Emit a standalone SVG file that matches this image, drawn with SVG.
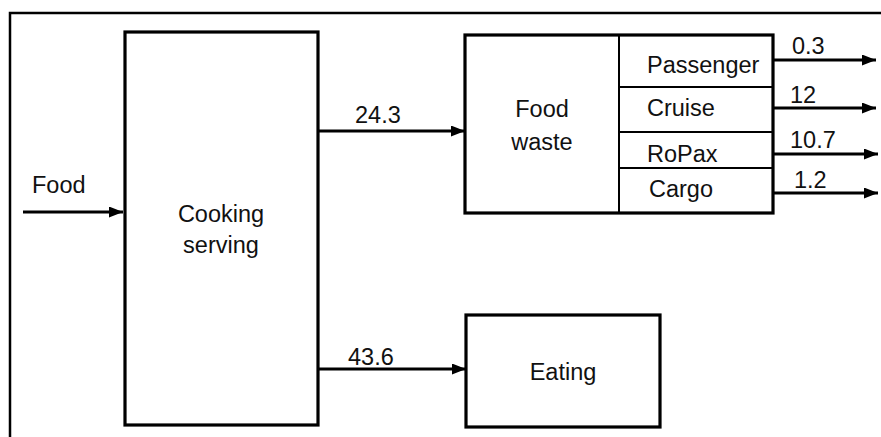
<svg xmlns="http://www.w3.org/2000/svg" width="881" height="437" viewBox="0 0 881 437">
<defs>
<style>
text{font-family:"Liberation Sans",Arial,sans-serif;font-size:23.5px;fill:#111}
.box{fill:#fff;stroke:#000;stroke-width:3.2}
.div{stroke:#000;stroke-width:2;fill:none}
.con{stroke:#000;stroke-width:3.2;fill:none}
.mid{text-anchor:middle}
</style>
<marker id="ah" viewBox="0 0 14 11" refX="14" refY="5.5" markerWidth="14" markerHeight="11" markerUnits="userSpaceOnUse" orient="auto">
<path d="M0,0 L14,5.5 L0,11 z" fill="#000"/>
</marker>
</defs>
<rect width="881" height="437" fill="#fff"/>
<path d="M10,437 V13 H881" fill="none" stroke="#000" stroke-width="2.5"/>
<g id="cooking">
<rect class="box" x="125" y="32" width="193" height="393"/>
<text class="mid" x="221" y="222">Cooking</text>
<text class="mid" x="221" y="253">serving</text>
</g>
<g id="foodwaste">
<rect class="box" x="465" y="35" width="308" height="178"/>
<path class="div" d="M619,35 V213 M619,87 H773 M619,132 H773 M619,168 H773"/>
<text class="mid" x="542" y="117">Food</text>
<text class="mid" x="542" y="150">waste</text>
<text x="647" y="73">Passenger</text>
<text x="647" y="116">Cruise</text>
<text x="647" y="162">RoPax</text>
<text x="649" y="197">Cargo</text>
</g>
<g id="eating">
<rect class="box" x="466" y="315" width="194" height="112"/>
<text class="mid" x="563" y="380">Eating</text>
</g>
<g id="connectors">
<line class="con" x1="23" y1="212" x2="123" y2="212" marker-end="url(#ah)"/>
<line class="con" x1="318" y1="131" x2="465" y2="131" marker-end="url(#ah)"/>
<line class="con" x1="318" y1="369" x2="466" y2="369" marker-end="url(#ah)"/>
<line class="con" x1="773" y1="60" x2="876" y2="60" marker-end="url(#ah)"/>
<line class="con" x1="773" y1="108" x2="876" y2="108" marker-end="url(#ah)"/>
<line class="con" x1="773" y1="154" x2="878" y2="154" marker-end="url(#ah)"/>
<line class="con" x1="773" y1="193" x2="878" y2="193" marker-end="url(#ah)"/>
</g>
<g id="labels">
<text x="32" y="193">Food</text>
<text x="355" y="123">24.3</text>
<text x="348" y="365">43.6</text>
<text x="792" y="54">0.3</text>
<text x="790" y="103">12</text>
<text x="790" y="148">10.7</text>
<text x="794" y="188">1.2</text>
</g>
</svg>
